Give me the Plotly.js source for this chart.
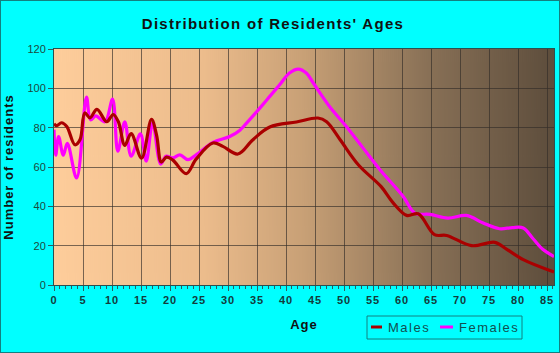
<!DOCTYPE html>
<html>
<head>
<meta charset="utf-8">
<script src="https://cdn.plot.ly/plotly-3.0.1.min.js"></script>
<style>
html,body{margin:0;padding:0;background:#00FFFF;}
#chart{width:558px;height:351px;border:1px solid #138080;}
.gtitle{letter-spacing:1.3px;}
.xtitle,.ytitle{letter-spacing:1px;}
.xtick text{letter-spacing:1px;}
.annotation-text{letter-spacing:1.5px;}
</style>
</head>
<body>
<div id="chart"></div>
<script>
// Data
const maleAges = [0,0.45,1.3,2.2,3.6,4.5,5.3,6.2,7.4,9.1,10.2,11.1,12.2,13.3,15.1,16.8,17.7,18.5,19.4,20.5,22.8,24.5,27.4,29.1,31.7,34.3,37.2,41.8,45.5,47,49.3,52.5,56.4,58.4,60.8,62.8,65.6,67.7,72,76,78,80.9,86.2];
const maleVals = [82,81,82.5,80.6,71.3,74,87.5,85,89.3,83,86.7,83,71,77,64.5,84.2,76,62.5,65,63.5,56.6,64,72.2,70.5,66.6,73.9,80.3,82.9,84.9,83,74,61,50,42,35.4,36.2,25.6,25.2,20,21.7,18.3,12.9,6.6];
const femaleAges = [0,0.3,0.8,1.6,2.3,3.9,5.6,6.3,7.2,8.8,10.1,11,12.2,13.3,14.9,15.9,17,18.4,19.3,20.5,21.7,23.1,24.5,27.4,30.3,32,33.2,36,37.2,38.9,40.6,42.1,43.5,44.7,47.5,50.4,53.3,56.2,60.2,62.2,64.8,67.9,71.1,74,76.8,79,80.9,82.6,84.3,86.2];
const femaleVals = [79,66,75.5,66,72,54.4,95.5,84,86,83,94.5,68,83,65.5,76.8,63,82.5,61.5,65.5,64.6,66.2,63.7,66.2,72.5,75.5,78.6,82.3,91.7,95.9,101.8,107.8,109.8,107.8,102.7,90.8,80.6,69.6,58.6,45,36.6,35.9,34,35.4,31.5,28.6,29.2,29,23.5,18,14.5];
const xTicks = [0,5,10,15,20,25,30,35,40,45,50,55,60,65,70,75,80,85];
const yTicks = [0,20,40,60,80,100,120];
const seriesNames = ['Males','Females'];
const seriesColors = ['#AA0000','#FF00FF'];

// gradient background image
const cv = document.createElement('canvas');
cv.width = 500; cv.height = 10;
const ctx = cv.getContext('2d');
const g = ctx.createLinearGradient(0,0,500,0);
g.addColorStop(0,'rgb(254,205,155)');
g.addColorStop(0.3,'rgb(236,188,140)');
g.addColorStop(0.5,'rgb(200,160,118)');
g.addColorStop(0.75,'rgb(136,112,86)');
g.addColorStop(1,'rgb(93,77,60)');
ctx.fillStyle = g; ctx.fillRect(0,0,500,10);
const bgURL = cv.toDataURL('image/png');

const traces = [
  {x: femaleAges, y: femaleVals, name: seriesNames[1], type:'scatter', mode:'lines',
   line:{color:seriesColors[1], width:3.2, shape:'spline', smoothing:1}},
  {x: maleAges, y: maleVals, name: seriesNames[0], type:'scatter', mode:'lines',
   line:{color:seriesColors[0], width:3.2, shape:'spline', smoothing:1}}
];

const W = 500, H = 236, L = 53, T = 48;
function px2x(p){ return (p - 1 - L)/W; }
function py2y(p){ return (T + H - (p - 1))/H; }

const legY = py2y(327);
const layout = {
  width: 558, height: 351,
  margin: {l: L, r: 5, t: T, b: 67},
  paper_bgcolor: '#00FFFF',
  plot_bgcolor: 'rgba(0,0,0,0)',
  showlegend: false,
  title: {text: "Distribution of Residents' Ages", x: 272/558, xanchor:'center', xref:'container',
          y: 1 - 23/351, yanchor:'middle', yref:'container',
          font:{family:'Liberation Sans, Arial, sans-serif', size:15, color:'#111', weight:'bold'}},
  xaxis: {range:[0,86.2], tickvals:xTicks, ticktext:xTicks.map(String),
          showgrid:true, gridcolor:'rgba(50,45,40,0.65)', gridwidth:1,
          showline:true, linecolor:'#2a5050', linewidth:1, mirror:true,
          ticks:'outside', ticklen:5, tickcolor:'#2a6060',
          minor:{dtick:1, tick0:0, ticks:'outside', ticklen:3, tickcolor:'#2a6060', showgrid:false},
          tickfont:{family:'Liberation Sans, Arial, sans-serif', size:11, color:'#123c3c', weight:'bold'},
          title:{text:'Age', standoff:14, font:{family:'Liberation Sans, Arial, sans-serif', size:13, color:'#111', weight:'bold'}},
          zeroline:false, fixedrange:true},
  yaxis: {range:[0,120], tickvals:yTicks, ticktext:yTicks.map(String),
          showgrid:true, gridcolor:'rgba(50,45,40,0.65)', gridwidth:1,
          showline:true, linecolor:'#2a5050', linewidth:1, mirror:true,
          ticks:'outside', ticklen:5, tickcolor:'#2a6060',
          tickfont:{family:'Liberation Sans, Arial, sans-serif', size:11, color:'#1d4a3c'},
          title:{text:'Number of residents', standoff:14, font:{family:'Liberation Sans, Arial, sans-serif', size:13, color:'#111', weight:'bold'}},
          zeroline:false, fixedrange:true},
  images: [{source:bgURL, xref:'paper', yref:'paper', x:0, y:1, sizex:1, sizey:1,
            sizing:'stretch', layer:'below', xanchor:'left', yanchor:'top'}],
  shapes: [
    {type:'rect', xref:'paper', yref:'paper', x0:px2x(367), x1:px2x(522), y0:py2y(339), y1:py2y(316),
     line:{color:'#138080', width:1}, fillcolor:'rgba(0,0,0,0)'},
    {type:'line', xref:'paper', yref:'paper', x0:px2x(371), x1:px2x(382), y0:legY, y1:legY,
     line:{color:seriesColors[0], width:3}},
    {type:'line', xref:'paper', yref:'paper', x0:px2x(440), x1:px2x(453), y0:legY, y1:legY,
     line:{color:seriesColors[1], width:3}}
  ],
  annotations: [
    {text:seriesNames[0], xref:'paper', yref:'paper', x:px2x(386), y:legY, xanchor:'left', yanchor:'middle', showarrow:false,
     font:{family:'Liberation Sans, Arial, sans-serif', size:13, color:'#125050'}},
    {text:seriesNames[1], xref:'paper', yref:'paper', x:px2x(457), y:legY, xanchor:'left', yanchor:'middle', showarrow:false,
     font:{family:'Liberation Sans, Arial, sans-serif', size:13, color:'#125050'}}
  ]
};
Plotly.newPlot('chart', traces, layout, {displayModeBar:false, staticPlot:true});
</script>
</body>
</html>
